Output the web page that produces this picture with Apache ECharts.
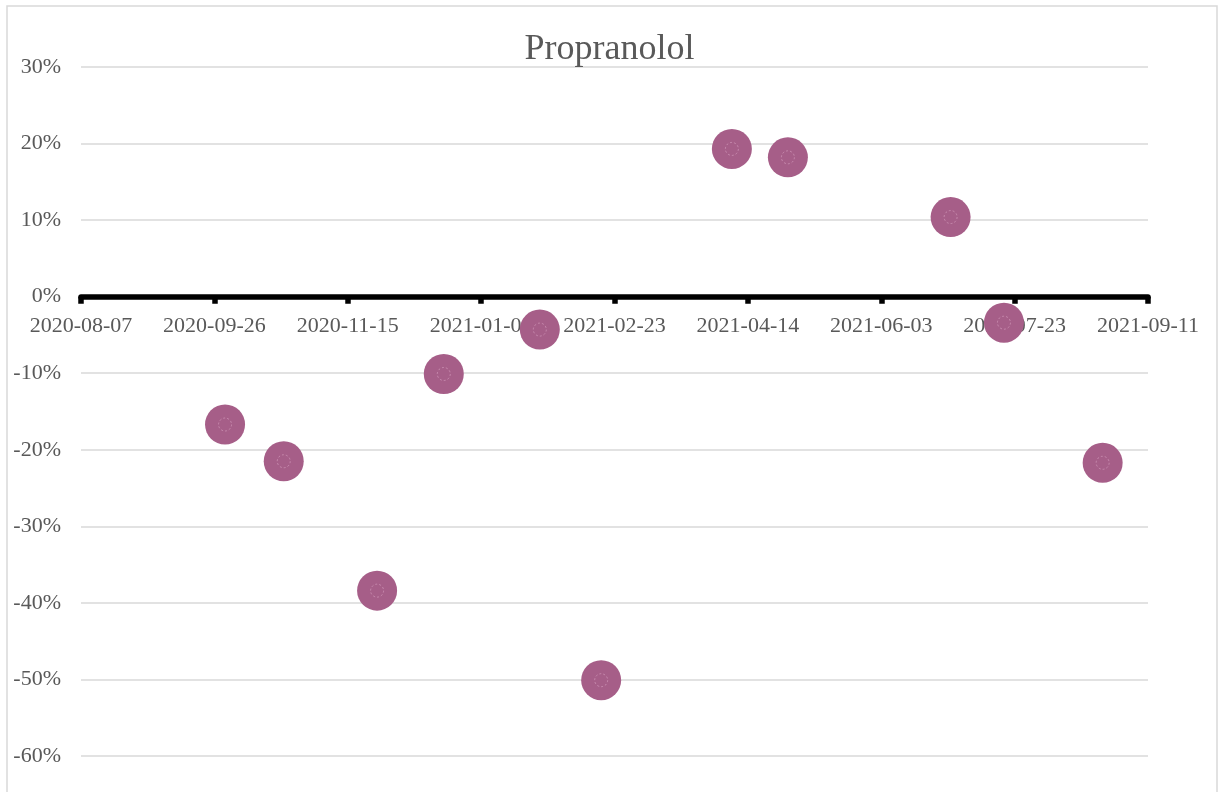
<!DOCTYPE html>
<html>
<head>
<meta charset="utf-8">
<title>Propranolol</title>
<script src="https://cdn.jsdelivr.net/npm/echarts@6/dist/echarts.min.js"></script>
<style>
  html, body { margin: 0; padding: 0; background: #ffffff; }
  #chart { width: 1219px; height: 792px; }
</style>
</head>
<body>
<div id="chart"></div>
<script>
// Observation dates and percentage change for each reading
const chartTitle = 'Propranolol';
const dates = ['2020-09-30', '2020-10-22', '2020-11-26', '2020-12-21', '2021-01-26', '2021-02-18',
               '2021-04-08', '2021-04-29', '2021-06-29', '2021-07-19', '2021-08-25'];
const values = [-16.7, -21.5, -38.4, -10.1, -4.3, -50.1, 19.3, 18.2, 10.4, -3.4, -21.7];

// Date axis: starts on this day, ticks every 50 days, 8 steps
const axisStartDate = '2020-08-07';
const tickStepDays = 50;
const tickSteps = 8;

// Value axis range (percent)
const yMin = -60, yMax = 30, yStep = 10;

const DAY_MS = 86400000;
const originMs = Date.parse(axisStartDate + 'T00:00:00Z');
const dayOffset = d => Math.round((Date.parse(d + 'T00:00:00Z') - originMs) / DAY_MS);
const offsetToDate = v => new Date(originMs + v * DAY_MS).toISOString().slice(0, 10);

const points = dates.map((d, i) => [dayOffset(d), values[i]]);

const FONT = '"Liberation Serif", "DejaVu Serif", serif';
const TEXT = '#595959';
const MARK = '#a65e88';

// plot box
const W = 1219, H = 792;
const gridBox = { left: 81, right: 71, top: 67, bottom: 36 };
const plotH = H - gridBox.top - gridBox.bottom;
// lift the date axis (line, ticks and labels) up to the 0% gridline
const zeroLift = plotH * (0 - yMin) / (yMax - yMin);

const chart = echarts.init(document.getElementById('chart'), null, { renderer: 'canvas' });
chart.setOption({
  animation: false,
  backgroundColor: '#ffffff',
  title: {
    text: chartTitle,
    left: 'center',
    top: 27,
    textStyle: { fontFamily: FONT, fontSize: 36, fontWeight: 'normal', color: TEXT }
  },
  graphic: [{
    type: 'rect',
    silent: true,
    z: -10,
    shape: { x: 7, y: 6, width: 1210, height: 900 },
    style: { fill: 'none', stroke: '#d9d9d9', lineWidth: 1.5 }
  }],
  grid: Object.assign({ containLabel: false }, gridBox),
  xAxis: {
    type: 'value',
    position: 'bottom',
    offset: -zeroLift,
    min: 0,
    max: tickStepDays * tickSteps,
    interval: tickStepDays,
    axisLine: { show: true, onZero: false, lineStyle: { color: '#000000', width: 5.5 } },
    axisTick: { show: true, inside: false, length: 7, lineStyle: { color: '#000000', width: 5.5 } },
    axisLabel: {
      show: true,
      margin: 19,
      showMinLabel: true,
      showMaxLabel: true,
      fontFamily: FONT,
      fontSize: 22,
      color: TEXT,
      formatter: v => offsetToDate(v)
    },
    splitLine: { show: false },
    z: 1
  },
  yAxis: {
    type: 'value',
    min: yMin,
    max: yMax,
    interval: yStep,
    axisLine: { show: false },
    axisTick: { show: false },
    axisLabel: {
      margin: 20,
      fontFamily: FONT,
      fontSize: 22,
      color: TEXT,
      formatter: v => v + '%'
    },
    splitLine: { show: true, lineStyle: { color: '#d9d9d9', width: 1.5 } }
  },
  series: [
    {
      name: chartTitle,
      type: 'scatter',
      data: points,
      symbol: 'circle',
      symbolSize: 40,
      itemStyle: { color: MARK, opacity: 1 },
      z: 3
    },
    {
      // faint inner ring on each marker
      name: chartTitle + ' ring',
      type: 'scatter',
      data: points,
      symbol: 'circle',
      symbolSize: 13,
      silent: true,
      itemStyle: { color: 'rgba(0,0,0,0)', borderColor: 'rgba(230,180,208,0.6)', borderWidth: 1, borderType: [2, 2] },
      z: 4
    }
  ]
});
</script>
</body>
</html>
